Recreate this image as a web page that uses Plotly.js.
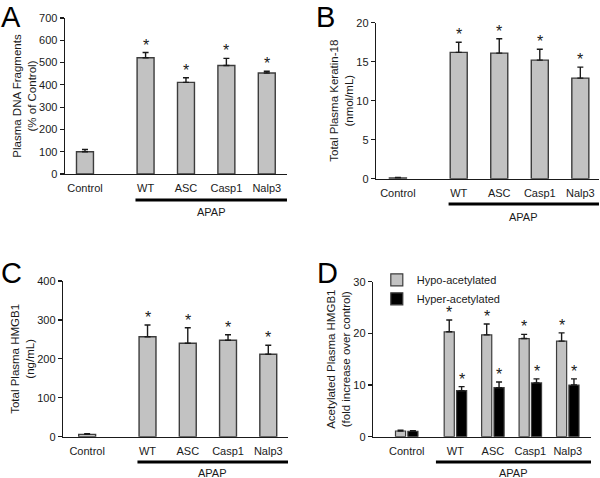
<!DOCTYPE html>
<html><head><meta charset="utf-8">
<script src="https://cdn.plot.ly/plotly-3.0.1.min.js"></script>
<style>html,body{margin:0;padding:0;background:#fff}#chart{width:600px;height:478px}</style>
</head><body><div id="chart"></div>
<script>
// ---- data ----
const categories = ['Control', 'WT', 'ASC', 'Casp1', 'Nalp3'];
const groupLabel = 'APAP';
const dnaFragments = [100, 522, 411, 487, 453];
const dnaFragmentsErr = [10, 23, 21, 32, 8];
const keratin18 = [0.1, 16.2, 16.1, 15.2, 12.9];
const keratin18Err = [0.05, 1.3, 1.85, 1.4, 1.4];
const hmgb1 = [6, 257, 240, 248, 212];
const hmgb1Err = [2, 30, 40, 14, 23];
const hypoAcetylated = [1.1, 20.3, 19.7, 19.0, 18.5];
const hypoAcetylatedErr = [0.15, 2.3, 2.1, 0.8, 1.6];
const hyperAcetylated = [1.05, 8.9, 9.5, 10.4, 10.0];
const hyperAcetylatedErr = [0.1, 0.8, 1.1, 0.8, 1.2];
const significant = [false, true, true, true, true];
const seriesNames = ['Hypo-acetylated', 'Hyper-acetylated'];

// ---- styling / layout ----
const FONT = 'Liberation Sans, Arial, Helvetica, sans-serif';
const GRAY = '#c2c2c2', EDGE = '#3c3c3c', INK = '#1a1a1a';
const positions = gap => categories.map((c, i) => i === 0 ? 0 : i + gap);

const panels = [
  {ax: '', letter: 'A', vals: dnaFragments, err: dnaFragmentsErr, gap: 0.5,
   xd: [0.1083, 0.4783], yd: [0.636, 0.9623], xr: [-0.495, 5.0], yr: [0, 700], dt: 100,
   title: 'Plasma DNA Fragments<br>(% of Control)', lineY: 0.5816, textY: 0.556,
   letterXY: [0.0, 1.0], letterAnchor: 'top'},
  {ax: '2', letter: 'B', vals: keratin18, err: keratin18Err, gap: 0.5,
   xd: [0.6267, 0.9983], yd: [0.6262, 0.9525], xr: [-0.54, 4.96], yr: [0, 20], dt: 5,
   title: 'Total Plasma Keratin-18<br>(nmol/mL)', lineY: 0.573, textY: 0.546,
   letterXY: [0.525, 0.9644], letterAnchor: 'middle'},
  {ax: '3', letter: 'C', vals: hmgb1, err: hmgb1Err, gap: 0.5,
   xd: [0.105, 0.48], yd: [0.0864, 0.4121], xr: [-0.6, 4.99], yr: [0, 400], dt: 100,
   title: 'Total Plasma HMGB1<br>(ng/mL)', lineY: 0.0335, textY: 0.0105,
   letterXY: [0.0, 0.4289], letterAnchor: 'middle'},
];

const data = [], annotations = [], shapes = [];
const layout = {
  width: 600, height: 478, margin: {l: 0, r: 0, t: 0, b: 0},
  paper_bgcolor: '#fff', plot_bgcolor: 'rgba(0,0,0,0)',
  font: {family: FONT, size: 11, color: INK},
  barmode: 'overlay', showlegend: true,
  annotations, shapes
};

function axisPair(p, lineStartOffset) {
  const xs = positions(p.gap);
  layout['xaxis' + p.ax] = {
    domain: p.xd, range: p.xr, anchor: 'y' + p.ax,
    showline: true, linecolor: INK, linewidth: 1.3, ticks: '',
    showgrid: false, zeroline: false, tickvals: xs, ticktext: categories,
    ticklabelstandoff: 4, tickfont: {size: 11, color: INK}, fixedrange: true
  };
  layout['yaxis' + p.ax] = {
    domain: p.yd, range: p.yr, dtick: p.dt, anchor: 'x' + p.ax,
    showline: true, linecolor: INK, linewidth: 1.3, ticks: 'outside', ticklen: 4,
    tickcolor: INK, tickwidth: 1.2, showgrid: false, zeroline: false,
    tickfont: {size: 11, color: INK},
    title: {text: p.title, font: {size: 11.5, color: INK}, standoff: 0}
  };
  // APAP bar under the treated groups
  const x0 = xs[1] - lineStartOffset;
  shapes.push({type: 'line', xref: 'x' + p.ax, yref: 'paper',
    x0: x0, x1: p.xr[1], y0: p.lineY, y1: p.lineY,
    line: {color: '#000', width: 3}});
  annotations.push({xref: 'x' + p.ax, yref: 'paper', x: (x0 + p.xr[1]) / 2,
    y: p.textY, yanchor: 'middle', text: groupLabel, showarrow: false,
    font: {size: 11, color: INK}});
  annotations.push({xref: 'paper', yref: 'paper', x: p.letterXY[0], y: p.letterXY[1],
    xanchor: 'left', yanchor: p.letterAnchor, borderpad: 0, text: p.letter, showarrow: false,
    font: {size: 29, color: '#000'}});
  return xs;
}

function addStars(xs, vals, err, ax, offsetFn) {
  xs.forEach((x, i) => {
    if (!significant[i]) return;
    annotations.push({xref: 'x' + ax, yref: 'y' + ax, x: offsetFn ? offsetFn(x) : x,
      y: vals[i] + err[i], yanchor: 'bottom', yshift: -2, borderpad: 0, text: '*', showarrow: false,
      font: {size: 16, color: INK}});
  });
}

panels.forEach(p => {
  const xs = axisPair(p, 0.25);
  data.push({type: 'bar', x: xs, y: p.vals, width: 0.42, xaxis: 'x' + p.ax, yaxis: 'y' + p.ax,
    marker: {color: GRAY, line: {color: EDGE, width: 1.4}}, showlegend: false,
    error_y: {type: 'data', symmetric: false, array: p.err, arrayminus: p.err.map(() => 0),
      color: INK, thickness: 1.4, width: 3}, hoverinfo: 'x+y'});
  addStars(xs, p.vals, p.err, p.ax);
});

// Panel D (two series per group)
const pD = {ax: '4', letter: 'D', gap: 0.3,
  xd: [0.6217, 0.985], yd: [0.0864, 0.4107], xr: [-0.9, 4.92], yr: [0, 30], dt: 10,
  title: 'Acetylated Plasma HMGB1<br>(fold increase over control)', lineY: 0.0335, textY: 0.0105,
  letterXY: [0.527, 0.4289], letterAnchor: 'middle'};
const xsD = axisPair(pD, 0.52);
const BW = 0.27;
[[hypoAcetylated, hypoAcetylatedErr, GRAY, -0.3], [hyperAcetylated, hyperAcetylatedErr, '#000', 0.03]]
  .forEach(([vals, err, col, off], k) => {
    data.push({type: 'bar', name: seriesNames[k], x: xsD, y: vals, width: BW, offset: off,
      xaxis: 'x4', yaxis: 'y4', marker: {color: col, line: {color: EDGE, width: 1.2}},
      error_y: {type: 'data', symmetric: false, array: err, arrayminus: err.map(() => 0),
        color: INK, thickness: 1.4, width: 3}});
    addStars(xsD, vals, err, '4', x => x + off + BW / 2);
  });
layout.legend = {x: 0.628, y: 0.445, xanchor: 'left', yanchor: 'top',
  bgcolor: 'rgba(0,0,0,0)', font: {size: 11, color: INK}, tracegroupgap: 0,
  itemwidth: 30, traceorder: 'normal'};

Plotly.newPlot('chart', data, layout, {displayModeBar: false, staticPlot: true});
</script>
</body></html>
